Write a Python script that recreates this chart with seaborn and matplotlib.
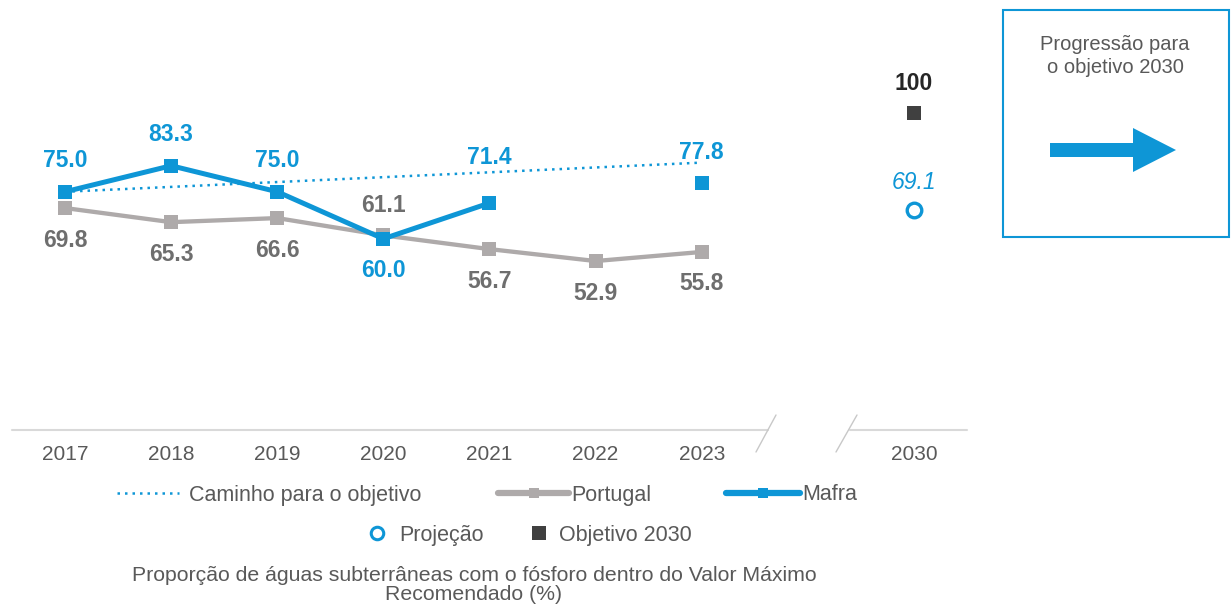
import numpy as np
import pandas as pd
import matplotlib
matplotlib.use("Agg")
import matplotlib.pyplot as plt
import seaborn as sns
from matplotlib.lines import Line2D
from matplotlib.patches import Rectangle, FancyArrow

# ---------------- data ----------------
categories = ["2017", "2018", "2019", "2020", "2021", "2022", "2023", "", "2030"]
portugal_years = ["2017", "2018", "2019", "2020", "2021", "2022", "2023"]
portugal = [69.8, 65.3, 66.6, 61.1, 56.7, 52.9, 55.8]
mafra_years = ["2017", "2018", "2019", "2020", "2021"]
mafra = [75.0, 83.3, 75.0, 60.0, 71.4]
mafra_last_years = ["2023"]
mafra_last = [77.8]
path_years = ["2017", "2023"]
path_values = [75.0, 84.3]
projection_years = ["2030"]
projection = [69.1]
target_years = ["2030"]
target = [100]
tick_labels = ["2017", "2018", "2019", "2020", "2021", "2022", "2023", "2030"]

BLUE = "#0E96D6"
GREY_LINE = "#AEAAAA"
GREY_LABEL = "#6E6E6E"
DARK = "#404040"
TEXT = "#595959"

sns.set_theme(style="white")
plt.rcParams["font.family"] = ["Liberation Sans", "DejaVu Sans"]

pos = {c: i for i, c in enumerate(categories)}

W, H = 1232, 608
fig = plt.figure(figsize=(W / 100, H / 100), dpi=100)
ax = fig.add_axes([12 / W, 1 - 430 / H, 955 / W, 400 / H])
ax.patch.set_alpha(0)

df_pt = pd.DataFrame({"x": [pos[y] for y in portugal_years], "v": portugal})
df_mf = pd.DataFrame({"x": [pos[y] for y in mafra_years], "v": mafra})
df_mf2 = pd.DataFrame({"x": [pos[y] for y in mafra_last_years], "v": mafra_last})
df_path = pd.DataFrame({"x": [pos[y] for y in path_years], "v": path_values})
df_proj = pd.DataFrame({"x": [pos[y] for y in projection_years], "v": projection})
df_tgt = pd.DataFrame({"x": [pos[y] for y in target_years], "v": target})

sns.lineplot(data=df_pt, x="x", y="v", ax=ax, color=GREY_LINE, lw=3.1,
             marker="s", markersize=9.5, markeredgewidth=0, zorder=2)
sns.lineplot(data=df_path, x="x", y="v", ax=ax, color=BLUE, lw=1.8,
             linestyle=(0, (1, 2)), zorder=3)
sns.lineplot(data=df_mf, x="x", y="v", ax=ax, color=BLUE, lw=3.6,
             marker="s", markersize=9.8, markeredgewidth=0, zorder=4)
sns.scatterplot(data=df_mf2, x="x", y="v", ax=ax, color=BLUE, marker="s",
                s=96, linewidth=0, zorder=4)
sns.scatterplot(data=df_proj, x="x", y="v", ax=ax, facecolor="white",
                edgecolor=BLUE, marker="o", s=110, linewidth=2.4, zorder=4)
sns.scatterplot(data=df_tgt, x="x", y="v", ax=ax, color=DARK, marker="s",
                s=100, linewidth=0, zorder=4)

ax.set_xlim(-0.5, 8.5)
ax.set_ylim(-1, 126.6)
ax.set_xlabel("")
ax.set_ylabel("")
ax.set_yticks([])
ax.set_xticks([pos[t] for t in tick_labels])
ax.set_xticklabels(tick_labels, fontsize=15, color=TEXT)
ax.tick_params(axis="x", length=0, pad=11)
for s in ax.spines.values():
    s.set_visible(False)

def lab(xc, v, txt, color, dy, **kw):
    ax.annotate(txt, (xc, v), xytext=(0, dy), textcoords="offset pixels",
                ha="center", va="center", color=color, fontsize=16.5, **kw)

for y, v in zip(portugal_years, portugal):
    dy = 30 if y == "2020" else -32
    lab(pos[y], v, f"{v:.1f}", GREY_LABEL, dy, fontweight="bold")
for y, v in zip(mafra_years, mafra):
    dy = {"2020": -32, "2021": 46}.get(y, 31)
    lab(pos[y], v, f"{v:.1f}", BLUE, dy, fontweight="bold")
for y, v in zip(mafra_last_years, mafra_last):
    lab(pos[y], v, f"{v:.1f}", BLUE, 30, fontweight="bold")
for y, v in zip(target_years, target):
    lab(pos[y], v, f"{v}", "#262626", 30, fontweight="bold")
for y, v in zip(projection_years, projection):
    lab(pos[y], v, f"{v:.1f}", BLUE, 28, fontstyle="italic")

# ---------------- overlay (pixel coords) ----------------
ov = fig.add_axes([0, 0, 1, 1])
ov.set_xlim(0, W)
ov.set_ylim(H, 0)
ov.axis("off")
ov.patch.set_alpha(0)

ov.plot([12, 768], [430, 430], color="#D9D9D9", lw=1.5)
ov.plot([850, 967], [430, 430], color="#D9D9D9", lw=1.5)
ov.plot([776, 756], [415, 452], color="#C8C8C8", lw=1)
ov.plot([857, 836], [415, 452], color="#C8C8C8", lw=1)

ov.add_patch(Rectangle((1003, 10), 226, 227, fill=False, ec=BLUE, lw=1.5))
ov.text(1115, 56, "Progressão para\no objetivo 2030", ha="center", va="center",
        fontsize=14.5, color=TEXT, linespacing=1.25)
ov.add_patch(FancyArrow(1050, 150, 126, 0, width=14, head_width=44,
                        head_length=43, length_includes_head=True,
                        color=BLUE, lw=0))

ov.text(474, 585, "Proporção de águas subterrâneas com o fósforo dentro do Valor Máximo\nRecomendado (%)",
        ha="center", va="center", fontsize=15.3, color=TEXT, linespacing=0.95)

# ---------------- legends ----------------
FS = 15.5
def leg(handle, label, xpx, ypx, hl, pad):
    lg = fig.legend([handle], [label], loc="center left",
                    bbox_to_anchor=(xpx / W, 1 - ypx / H), frameon=False,
                    fontsize=FS, handlelength=hl, handletextpad=pad,
                    borderpad=0, borderaxespad=0, labelcolor=TEXT)
    return lg

h_path = Line2D([], [], color=BLUE, ls=(0, (1, 2)), lw=1.8)
h_pt = Line2D([], [], color=GREY_LINE, lw=4.5, marker="s", ms=7, mew=0)
h_mf = Line2D([], [], color=BLUE, lw=4.5, marker="s", ms=7, mew=0)
h_proj = Line2D([], [], ls="none", marker="o", ms=9, mfc="white", mec=BLUE, mew=2.2)
h_tgt = Line2D([], [], ls="none", marker="s", ms=10, color=DARK, mew=0)

leg(h_path, "Caminho para o objetivo", 117, 495, 2.9, 0.45)
leg(h_pt, "Portugal", 498, 495, 3.3, 0.1)
leg(h_mf, "Mafra", 726, 495, 3.45, 0.08)
leg(h_proj, "Projeção", 368, 535, 0.85, 0.6)
leg(h_tgt, "Objetivo 2030", 531, 535, 0.75, 0.55)

fig.savefig("out.png", dpi=100)
